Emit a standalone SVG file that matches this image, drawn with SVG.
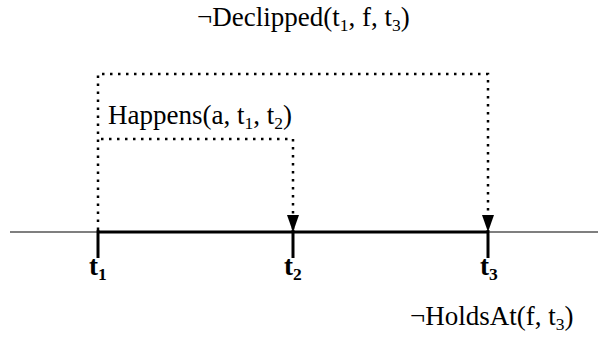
<svg xmlns="http://www.w3.org/2000/svg" width="608" height="337" viewBox="0 0 608 337">
<style>
text{font-family:'Liberation Serif','Times New Roman',serif;fill:#000}
.lbl{font-size:27px}
.t{font-size:27px;font-weight:bold}
.dot{fill:none;stroke:#000;stroke-width:2.5;stroke-dasharray:2.5 5.5}
.tick{stroke:#000;stroke-width:3}
</style>
<defs>
<marker id="ah" markerWidth="17" markerHeight="12" refX="17" refY="6" orient="auto" markerUnits="userSpaceOnUse" viewBox="0 0 17 12"><path d="M0,0 L17,6 L0,12 Z" fill="#000"/></marker>
</defs>
<g id="timeline">
<line x1="10" y1="232" x2="598" y2="232" stroke="#000" stroke-width="1.2"/>
<line x1="98" y1="232" x2="488" y2="232" stroke="#000" stroke-width="3"/>
</g>
<g id="t1"><line class="tick" x1="98" y1="230" x2="98" y2="258"/><text class="t" x="89" y="275">t<tspan font-size="17.5" dy="5">1</tspan></text></g>
<g id="t2"><line class="tick" x1="293" y1="230" x2="293" y2="258"/><text class="t" x="284" y="275">t<tspan font-size="17.5" dy="5">2</tspan></text></g>
<g id="t3"><line class="tick" x1="488" y1="230" x2="488" y2="258"/><text class="t" x="480" y="275">t<tspan font-size="17.5" dy="5">3</tspan></text>
<text class="lbl" x="410" y="325">¬HoldsAt(f, t<tspan font-size="17.5" dy="5">3</tspan><tspan dy="-5">)</tspan></text></g>
<g id="connectors">
<path class="dot" d="M98,230 V74 H488 V232" marker-end="url(#ah)"/>
<path class="dot" d="M101,139 H293 V232" marker-end="url(#ah)"/>
</g>
<g id="declipped"><text class="lbl" x="197" y="26">¬Declipped(t<tspan font-size="17.5" dy="5">1</tspan><tspan dy="-5">, f, t</tspan><tspan font-size="17.5" dy="5">3</tspan><tspan dy="-5">)</tspan></text></g>
<g id="happens"><text class="lbl" x="108" y="124">Happens(a, t<tspan font-size="17.5" dy="5">1</tspan><tspan dy="-5">, t</tspan><tspan font-size="17.5" dy="5">2</tspan><tspan dy="-5">)</tspan></text></g>
</svg>
